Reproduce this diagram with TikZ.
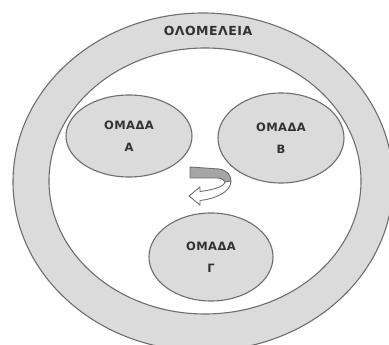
\documentclass[tikz,border=0pt]{standalone}
\usepackage{fontspec}
\newfontfamily\grpfont{DejaVu Sans}[LetterSpace=4]
\usetikzlibrary{shapes.geometric}
\definecolor{speckle}{RGB}{219,219,219}
\definecolor{edgegray}{RGB}{110,110,110}
\definecolor{inkgray}{RGB}{50,50,50}
\definecolor{bandgray}{RGB}{165,165,165}

\begin{document}
\begin{tikzpicture}[
  x=1pt, y=-1pt,
  font=\grpfont\bfseries\fontsize{11.5}{21.5}\selectfont,
  rim/.style={draw=edgegray, line width=1.1pt},
  group/.style={ellipse, draw=edgegray, line width=1.1pt, fill=speckle,
                inner sep=0pt, align=center, text=inkgray},
  title/.style={text=inkgray, inner sep=1pt, font=\grpfont\bfseries\fontsize{12.5}{15}\selectfont},
  band/.style={draw=edgegray, line width=0.9pt, line join=round}
]
\useasboundingbox (0,0) rectangle (389,345);

%% ---------- plenary ring ----------
\begin{scope}
  \clip (0,0) rectangle (389,345);
  \draw[rim, fill=speckle] (203,182) ellipse [x radius=190, y radius=169];
  \draw[rim, fill=white]   (205,181) ellipse [x radius=156, y radius=133];
\end{scope}
\node[title] (plenary) at (208,31) {ΟΛΟΜΕΛΕΙΑ};

%% ---------- groups ----------
\node[group, minimum width=126pt, minimum height=82pt] (grpA) at (129,136) {ΟΜΑΔΑ\\Α};
\node[group, minimum width=126pt, minimum height=90pt] (grpB) at (281,138) {ΟΜΑΔΑ\\Β};
\node[group, minimum width=124pt, minimum height=88pt] (grpG) at (211,257) {ΟΜΑΔΑ\\Γ};

%% ---------- rotation arrow ----------
\draw[band, fill=bandgray] (190,167) -- (219,169)
  .. controls (227,170) and (231,175) .. (231,181) -- (225,182)
  .. controls (223,179) and (221,178) .. (217,178) -- (190,178) -- cycle;
\draw[band, fill=white] (231,181)
  .. controls (231,192) and (215,199) .. (200,200.5) -- (200,205)
  -- (189,196) -- (200,187) -- (200,191.5)
  .. controls (212,190) and (224,187) .. (225,182) -- cycle;
\end{tikzpicture}
\end{document}
